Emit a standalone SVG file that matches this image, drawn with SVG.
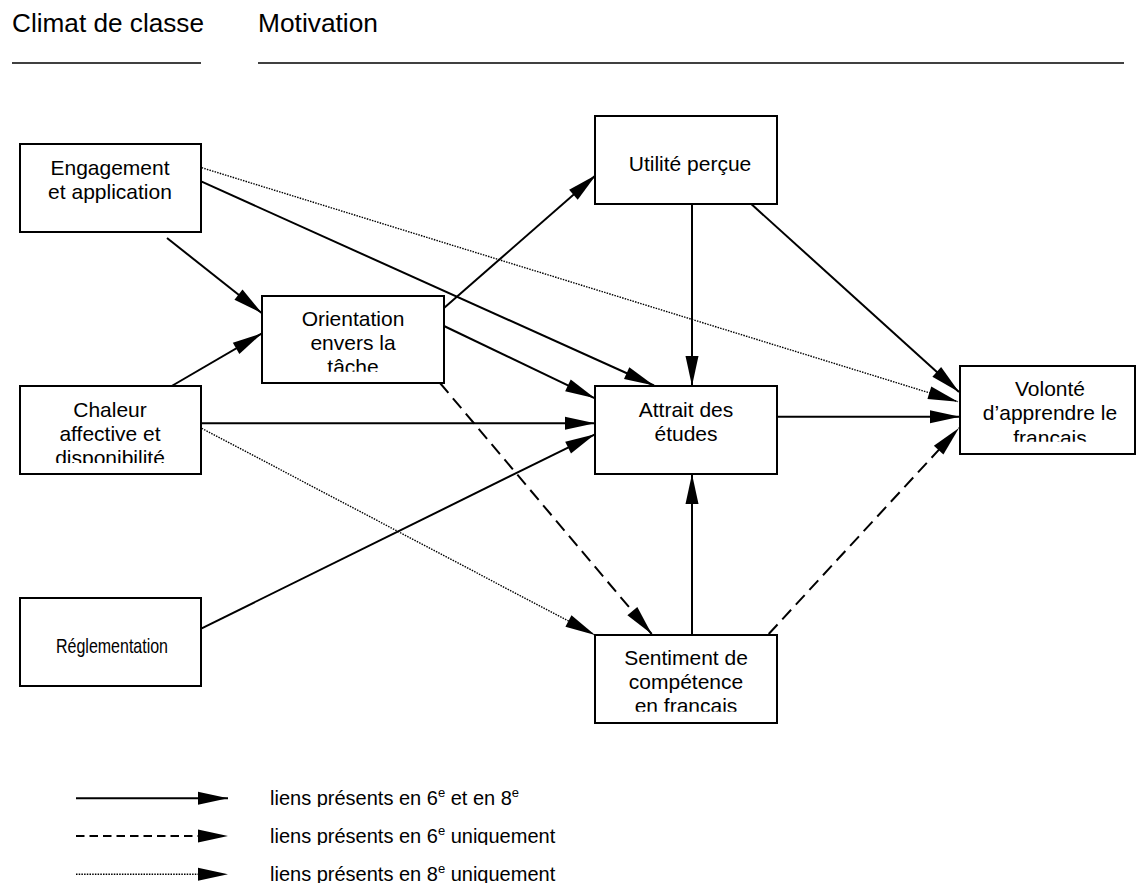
<svg xmlns="http://www.w3.org/2000/svg" width="1137" height="888" viewBox="0 0 1137 888">
<style>
text{font-family:"Liberation Sans",Arial,sans-serif;fill:#000}
.hd{font-size:25px}
.nt{font-size:21px;text-anchor:middle}
.lg{font-size:20px}
.sup{font-size:13px}
.box{fill:#fff;stroke:#000;stroke-width:2}
.c{fill:none;stroke:#000;stroke-width:2}
.dash{stroke-dasharray:13 7}
.dot{stroke-width:1.4;stroke-dasharray:1.5 1.2}
.rule{stroke:#000;stroke-width:1.5}
</style>
<defs>
<marker id="ah" markerUnits="userSpaceOnUse" markerWidth="30" markerHeight="13" refX="30" refY="6.5" orient="auto" overflow="visible">
<path d="M0,0 L30,6.5 L0,13 z" fill="#000"/>
</marker>
<clipPath id="clipCh"><rect x="20" y="386" width="181" height="77"/></clipPath>
<clipPath id="clipOr"><rect x="262" y="296" width="182" height="75.7"/></clipPath>
<clipPath id="clipVo"><rect x="960" y="366" width="175" height="75.7"/></clipPath>
<clipPath id="clipSe"><rect x="595" y="635" width="182" height="76.7"/></clipPath>
<clipPath id="clipL1"><rect x="260" y="780" width="400" height="27"/></clipPath>
<clipPath id="clipL2"><rect x="260" y="818" width="400" height="27"/></clipPath>
<clipPath id="clipL3"><rect x="260" y="856" width="400" height="27"/></clipPath>
</defs>

<g id="headers">
<text class="hd" x="12" y="32" textLength="192" lengthAdjust="spacingAndGlyphs">Climat de classe</text>
<text class="hd" x="258" y="32" textLength="120" lengthAdjust="spacingAndGlyphs">Motivation</text>
<line class="rule" x1="12" y1="63" x2="201" y2="63"/>
<line class="rule" x1="258" y1="63" x2="1124" y2="63"/>
</g>

<g id="connectors">
<line class="c dot" x1="201.7" y1="167.7" x2="958" y2="401.7" marker-end="url(#ah)"/>
<line class="c" x1="201.7" y1="181.7" x2="654" y2="385.5" marker-end="url(#ah)"/>
<line class="c" x1="167" y1="238" x2="262" y2="313.3" marker-end="url(#ah)"/>
<line class="c" x1="171.7" y1="386" x2="262" y2="333.3" marker-end="url(#ah)"/>
<line class="c" x1="201" y1="423.3" x2="595" y2="423.3" marker-end="url(#ah)"/>
<line class="c dot" x1="201.7" y1="428.3" x2="595" y2="635" marker-end="url(#ah)"/>
<line class="c" x1="201.7" y1="628.3" x2="595" y2="434.3" marker-end="url(#ah)"/>
<line class="c" x1="444" y1="308" x2="596" y2="175" marker-end="url(#ah)"/>
<line class="c" x1="444" y1="326" x2="595" y2="398.3" marker-end="url(#ah)"/>
<line class="c dash" x1="440" y1="383" x2="651.7" y2="634" marker-end="url(#ah)"/>
<line class="c" x1="692" y1="204" x2="692" y2="386" marker-end="url(#ah)"/>
<line class="c" x1="750.7" y1="203.5" x2="959" y2="392" marker-end="url(#ah)"/>
<line class="c" x1="777" y1="416.7" x2="960" y2="416.7" marker-end="url(#ah)"/>
<line class="c" x1="692" y1="635" x2="692" y2="474" marker-end="url(#ah)"/>
<line class="c dash" x1="768.7" y1="634" x2="959" y2="428" marker-end="url(#ah)"/>
</g>

<g id="engagement">
<rect class="box" x="20" y="144" width="181" height="88"/>
<text class="nt" x="110" y="175">Engagement</text>
<text class="nt" x="110" y="199">et application</text>
</g>

<g id="chaleur">
<rect class="box" x="20" y="386" width="181" height="88"/>
<g clip-path="url(#clipCh)">
<text class="nt" x="110" y="417">Chaleur</text>
<text class="nt" x="110" y="441">affective et</text>
<text class="nt" x="110" y="465">disponibilité</text>
</g>
</g>

<g id="reglementation">
<rect class="box" x="20" y="598" width="181" height="88"/>
<text class="nt" x="112" y="653" textLength="112" lengthAdjust="spacingAndGlyphs">Réglementation</text>
</g>

<g id="orientation">
<rect class="box" x="262" y="296" width="182" height="87"/>
<g clip-path="url(#clipOr)">
<text class="nt" x="353" y="326">Orientation</text>
<text class="nt" x="353" y="350">envers la</text>
<text class="nt" x="353" y="374">tâche</text>
</g>
</g>

<g id="utilite">
<rect class="box" x="595" y="116" width="182" height="88"/>
<text class="nt" x="690" y="171">Utilité perçue</text>
</g>

<g id="attrait">
<rect class="box" x="595" y="386" width="182" height="88"/>
<text class="nt" x="686" y="417">Attrait des</text>
<text class="nt" x="686" y="441">études</text>
</g>

<g id="volonte">
<rect class="box" x="960" y="366" width="175" height="88"/>
<g clip-path="url(#clipVo)">
<text class="nt" x="1050" y="396">Volonté</text>
<text class="nt" x="1050" y="420">d’apprendre le</text>
<text class="nt" x="1050" y="445">français</text>
</g>
</g>

<g id="sentiment">
<rect class="box" x="595" y="635" width="182" height="88"/>
<g clip-path="url(#clipSe)">
<text class="nt" x="686" y="665">Sentiment de</text>
<text class="nt" x="686" y="689">compétence</text>
<text class="nt" x="686" y="713">en français</text>
</g>
</g>

<g id="legend">
<line class="c" x1="76" y1="798.3" x2="228" y2="798.3" marker-end="url(#ah)"/>
<line class="c" x1="76" y1="836" x2="198" y2="836" style="stroke-dasharray:8.5 5"/>
<line class="c" x1="198" y1="836" x2="228" y2="836" marker-end="url(#ah)" style="stroke-width:0"/>
<line class="c dot" x1="76" y1="874.3" x2="198" y2="874.3"/>
<line class="c" x1="198" y1="874.3" x2="228" y2="874.3" marker-end="url(#ah)" style="stroke-width:0"/>
<g clip-path="url(#clipL1)"><text class="lg" x="270" y="805">liens présents en 6<tspan class="sup" dy="-8">e</tspan><tspan dy="8"> et en 8</tspan><tspan class="sup" dy="-8">e</tspan></text></g>
<g clip-path="url(#clipL2)"><text class="lg" x="270" y="843">liens présents en 6<tspan class="sup" dy="-8">e</tspan><tspan dy="8"> uniquement</tspan></text></g>
<g clip-path="url(#clipL3)"><text class="lg" x="270" y="881">liens présents en 8<tspan class="sup" dy="-8">e</tspan><tspan dy="8"> uniquement</tspan></text></g>
</g>
</svg>
